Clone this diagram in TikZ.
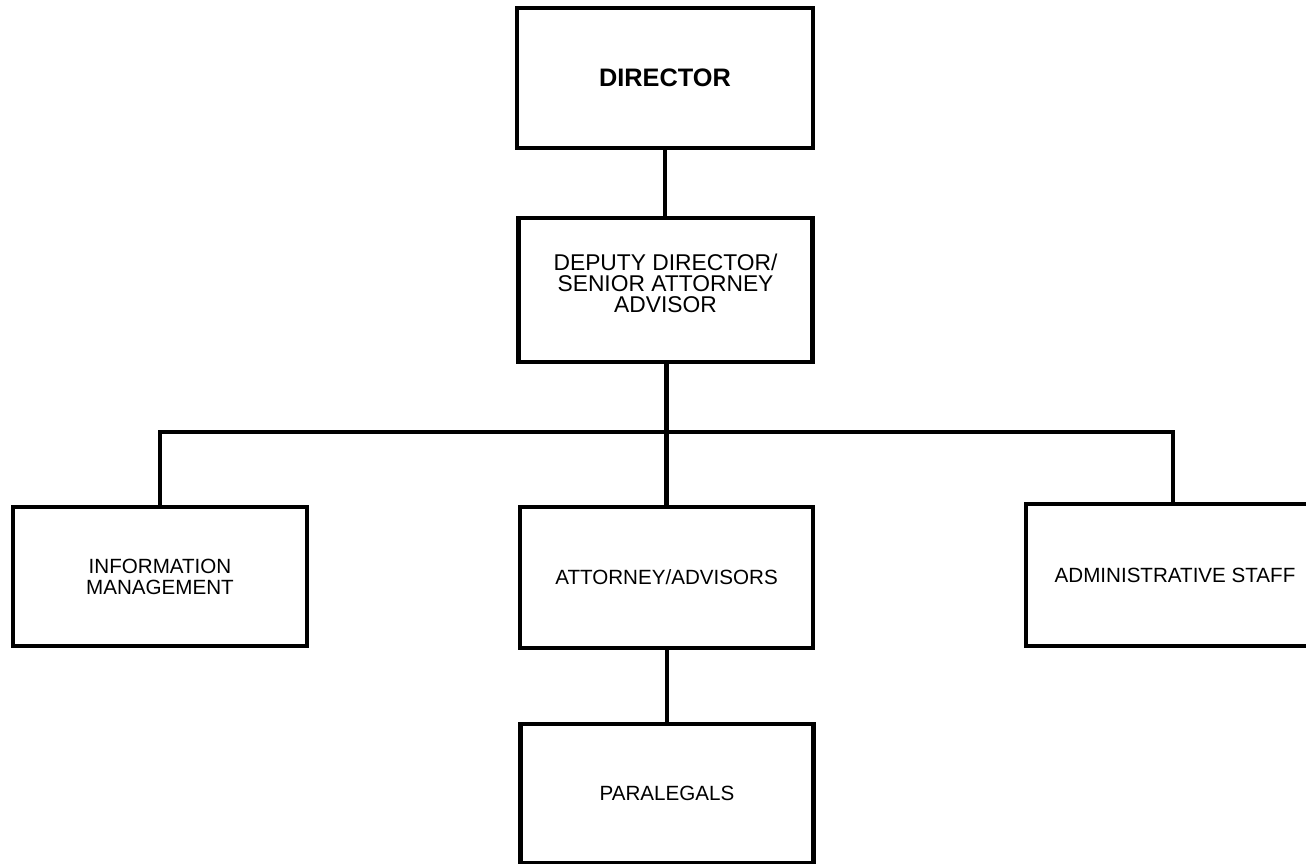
\documentclass[tikz,border=0pt]{standalone}
\usepackage{fontspec}
\setmainfont{Liberation Sans}
\begin{document}
\begin{tikzpicture}[x=1pt,y=-1pt,
  orgbox/.style={draw=black, line width=4.5pt, fill=white, inner sep=0pt, align=center,
    font=\fontsize{20.6}{21}\selectfont},
  link/.style={draw=black, line width=4.5pt}]
\useasboundingbox (0,0) rectangle (1306,864);
\clip (0,0) rectangle (1306,864);
\node[orgbox, minimum width=296pt, minimum height=140pt, font=\fontsize{25.3}{27}\selectfont\bfseries] (dir) at (665,78) {DIRECTOR};
\node[orgbox, minimum width=294pt, minimum height=144pt, font=\fontsize{22.8}{21}\selectfont] (dep) at (665.5,290) {DEPUTY DIRECTOR/\\SENIOR ATTORNEY\\ADVISOR\\[-8pt]\mbox{}};
\node[orgbox, minimum width=294pt, minimum height=139pt] (info) at (160,576.5) {INFORMATION\\MANAGEMENT};
\node[orgbox, minimum width=293pt, minimum height=141pt] (att) at (666.5,577.5) {ATTORNEY/ADVISORS};
\node[orgbox, minimum width=298pt, minimum height=142pt] (admin) at (1175,575) {ADMINISTRATIVE STAFF};
\node[orgbox, minimum width=293pt, minimum height=139pt] (para) at (667,793.5) {PARALEGALS};
\coordinate (busL) at (160,432);
\coordinate (busR) at (1173,432);
\draw[link] (dir.south) -- (dir.south |- dep.north);
\draw[link] (att.north |- dep.south) -- (att.north);
\draw[link] (para.north |- att.south) -- (para.north);
\draw[link] (info.north) -- (busL) -- (busR) -- (busR |- admin.north);
\end{tikzpicture}
\end{document}
